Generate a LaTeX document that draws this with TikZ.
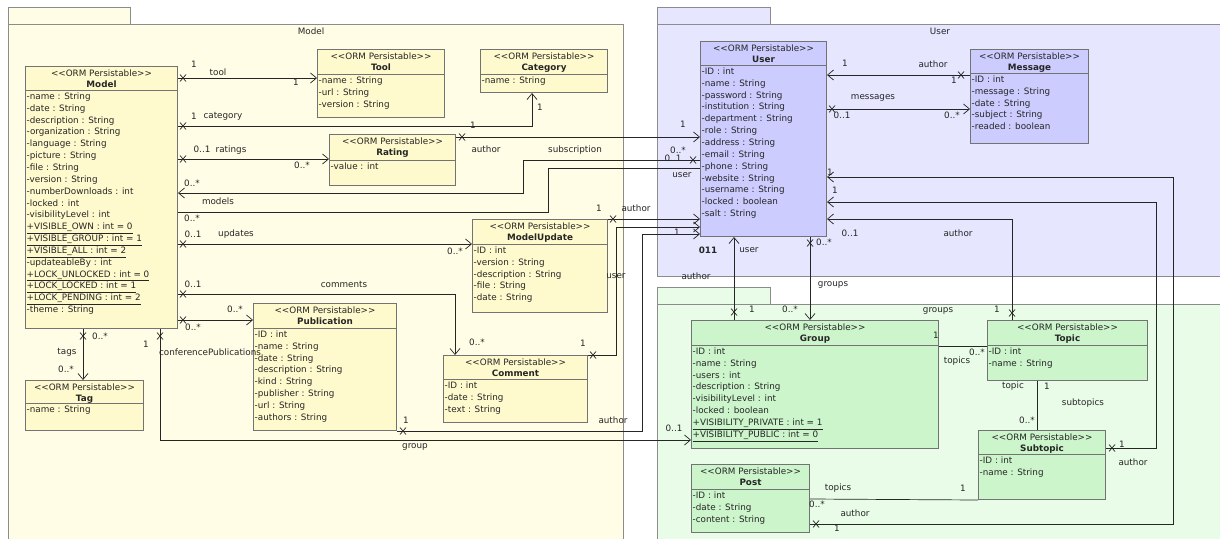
\documentclass[tikz,border=0pt]{standalone}
\usepackage{fontspec}
\setmainfont{DejaVu Sans}
\usetikzlibrary{arrows.meta}

\definecolor{mdlpkg}{HTML}{FFFDE6}
\definecolor{mdlcls}{HTML}{FFFACD}
\definecolor{usrpkg}{HTML}{E6E6FF}
\definecolor{usrcls}{HTML}{CCCCFF}
\definecolor{grppkg}{HTML}{E8FCE8}
\definecolor{grpcls}{HTML}{CCF5CC}

% class box: name, position, width, height, header height, fill, title, attributes
\newcommand{\umlclass}[8]{%
  \node[cls, fill=#6, minimum width=#3, minimum height=#4] (#1) at (#2) {};
  \node[hdr] (#1h) at (#1.north) {<\kern0pt<ORM Persistable>\kern0pt>\\\textbf{#7}};
  \draw[draw=black!55, line width=1pt] ([yshift=-#5pt]#1.north west) -- ([yshift=-#5pt]#1.north east);
  \node[atr] (#1a) at ([yshift=-#5pt]#1.north west) {#8};
}

\begin{document}
\begin{tikzpicture}[x=1pt, y=-1pt,
    >={Straight Barb[length=6pt,width=10pt]},
    pkg/.style={draw=black!45, line width=0.8pt},
    cls/.style={draw=black!55, line width=1pt, anchor=north west, inner sep=0pt},
    hdr/.style={anchor=north, align=center, inner xsep=1pt, inner ysep=3.3pt, text=black!85, font=\fontsize{8.8}{11}\selectfont},
    atr/.style={anchor=north west, align=left, inner xsep=1.5pt, inner ysep=2.5pt, text=black!85, font=\fontsize{8.8}{11.85}\selectfont},
    lbl/.style={inner sep=0pt, text=black!85, font=\fontsize{8.8}{10}\selectfont},
    conn/.style={draw=black!85, line width=0.7pt},
    xm/.pic={\draw[black!85, line width=0.7pt] (-3,-3.5) -- (3,3.5) (-3,3.5) -- (3,-3.5);}
  ]

  \useasboundingbox (0,0) rectangle (1220,538);
  \clip (0,0) rectangle (1220,538);
  \fill[white] (0,0) rectangle (1220,538);

  % Packages
  \draw[pkg, fill=mdlpkg] (8,7) rectangle (130,24);
  \draw[pkg, fill=mdlpkg] (8,24) rectangle (623,545);
  \node[lbl] (pkgModel) at (311,31) {Model};

  \draw[pkg, fill=usrpkg] (657,7) rectangle (770,24);
  \draw[pkg, fill=usrpkg] (657,24) rectangle (1228,276);
  \node[lbl] (pkgUser) at (940,31) {User};

  \draw[pkg, fill=grppkg] (657,287) rectangle (770,304);
  \draw[pkg, fill=grppkg] (657,304) rectangle (1228,545);
  \node[lbl] (pkgGroups) at (938,311) {groups};

  % Classes
  \umlclass{model}{25,66}{152}{262}{24}{mdlcls}{Model}{-name : String\\-date : String\\-description : String\\-organization : String\\-language : String\\-picture : String\\-file : String\\-version : String\\-numberDownloads : int\\-locked : int\\-visibilityLevel : int\\\underline{+VISIBLE\_OWN : int = 0}\\\underline{+VISIBLE\_GROUP : int = 1}\\\underline{+VISIBLE\_ALL : int = 2}\\-updateableBy : int\\\underline{+LOCK\_UNLOCKED : int = 0}\\\underline{+LOCK\_LOCKED : int = 1}\\\underline{+LOCK\_PENDING : int = 2}\\-theme : String}
  \umlclass{tool}{317,49}{127}{68}{25}{mdlcls}{Tool}{-name : String\\-url : String\\-version : String}
  \umlclass{category}{480,49}{127}{43}{25}{mdlcls}{Category}{-name : String}
  \umlclass{rating}{329,134}{126}{51}{26}{mdlcls}{Rating}{-value : int}
  \umlclass{modelupdate}{472,219}{135}{93}{25}{mdlcls}{ModelUpdate}{-ID : int\\-version : String\\-description : String\\-file : String\\-date : String}
  \umlclass{publication}{253,303}{143}{127}{25}{mdlcls}{Publication}{-ID : int\\-name : String\\-date : String\\-description : String\\-kind : String\\-publisher : String\\-url : String\\-authors : String}
  \umlclass{comment}{443,355}{144}{67}{24}{mdlcls}{Comment}{-ID : int\\-date : String\\-text : String}
  \umlclass{tag}{25,380}{118}{50}{23}{mdlcls}{Tag}{-name : String}

  \umlclass{user}{700,41}{126}{195}{24}{usrcls}{User}{-ID : int\\-name : String\\-password : String\\-institution : String\\-department : String\\-role : String\\-address : String\\-email : String\\-phone : String\\-website : String\\-username : String\\-locked : boolean\\-salt : String}
  \umlclass{message}{970,49}{118}{94}{24}{usrcls}{Message}{-ID : int\\-message : String\\-date : String\\-subject : String\\-readed : boolean}

  \umlclass{group}{691,320}{247}{128}{25}{grpcls}{Group}{-ID : int\\-name : String\\-users : int\\-description : String\\-visibilityLevel : int\\-locked : boolean\\\underline{+VISIBILITY\_PRIVATE : int = 1}\\\underline{+VISIBILITY\_PUBLIC : int = 0}}
  \umlclass{post}{691,464}{118}{68}{25}{grpcls}{Post}{-ID : int\\-date : String\\-content : String}
  \umlclass{topic}{987,320}{160}{60}{25}{grpcls}{Topic}{-ID : int\\-name : String}
  \umlclass{subtopic}{978,430}{127}{69}{24}{grpcls}{Subtopic}{-ID : int\\-name : String}

  % Associations inside Model
  \draw[conn,->] (model.east |- 0,78) -- (tool.west |- 0,78);
  \pic at (183,78) {xm};
  \draw[conn,->] (model.east |- 0,126) -| (532,0 |- category.south);
  \pic at (183,126) {xm};
  \draw[conn,->] (model.east |- 0,159) -- (rating.west |- 0,159);
  \pic at (183,159) {xm};
  \draw[conn,->] (model.east |- 0,244) -- (modelupdate.west |- 0,244);
  \pic at (183,244) {xm};
  \draw[conn,->] (model.east |- 0,294) -| (455,0 |- comment.north);
  \pic at (183,294) {xm};
  \draw[conn,->] (model.east |- 0,320) -- (publication.west |- 0,320);
  \pic at (183,320) {xm};
  \draw[conn,->] (83,0 |- model.south) -- (83,0 |- tag.north);
  \pic at (83,336) {xm};

  % Model -- User
  \coordinate (sub1) at (523,193);
  \draw[conn,->] (user.west |- 0,160) -| (sub1) -- (model.east |- sub1);
  \pic at (693,160) {xm};
  \coordinate (sub2) at (548,212);
  \draw[conn] (user.west |- 0,168) -| (sub2) -- (model.east |- sub2);
  \draw[conn,->] (rating.east |- 0,137) -- (user.west |- 0,137);
  \pic at (462,137) {xm};
  \draw[conn,->] (modelupdate.north east) -- (user.west |- modelupdate.north east);
  \pic at (613,219) {xm};
  \coordinate (cu) at (616,227);
  \draw[conn,->] (comment.north east) -| (cu) -- (user.west |- cu);
  \pic at (593,355) {xm};
  \coordinate (pa) at (642,234);
  \draw[conn,->] (publication.east |- 0,431) -| (pa) -- (user.west |- pa);
  \pic at (403,431) {xm};

  % Model -- Group
  \draw[conn,->] (160,0 |- model.south) |- (group.west |- 0,440);
  \pic at (160,336) {xm};

  % User -- Message
  \draw[conn,->] (message.west |- 0,75) -- (user.east |- 0,75);
  \pic at (961,75) {xm};
  \draw[conn,->] (user.east |- 0,109) -- (message.west |- 0,109);
  \pic at (832,109) {xm};

  % User -- groups
  \draw[conn,<-] (734,0 |- user.south) -- (734,0 |- group.north);
  \pic at (734,312) {xm};
  \draw[conn,->] (810,0 |- user.south) -- (810,0 |- group.north);
  \pic at (810,243) {xm};
  \coordinate (po) at (1173,177);
  \draw[conn,->] (post.east |- 0,524) -| (po) -- (user.east |- po);
  \pic at (816,524) {xm};
  \coordinate (so) at (1156,202);
  \draw[conn,->] (subtopic.east |- 0,448) -| (so) -- (user.east |- so);
  \pic at (1112,448) {xm};
  \draw[conn,->] (1012,0 |- topic.north) |- (user.east |- 0,219);
  \pic at (1012,313) {xm};

  % inside groups
  \draw[conn] (group.east |- 0,346) -- (topic.west |- 0,346);
  \draw[conn] (1037,0 |- topic.south) -- (1037,0 |- subtopic.north);
  \draw[conn] (post.east |- 0,499) -- (subtopic.south west);

  % Labels
  \node[lbl] (toolA) at (194,64) {1};
  \node[lbl] (toolB) at (218,72) {tool};
  \node[lbl] (toolC) at (296,82) {1};
  \node[lbl] (catA) at (194,116) {1};
  \node[lbl] (catB) at (223,116) {category};
  \node[lbl] (catC) at (473,125) {1};
  \node[lbl] (catD) at (540,107) {1};
  \node[lbl] (ratA) at (202,149) {0..1};
  \node[lbl] (ratB) at (231,150) {ratings};
  \node[lbl] (ratC) at (302,165) {0..*};
  \node[lbl] (modA) at (192,183) {0..*};
  \node[lbl] (modB) at (218,201) {models};
  \node[lbl] (subA) at (575,150) {subscription};
  \node[lbl] (subB) at (192,218) {0..*};
  \node[lbl] (rauA) at (486,149) {author};
  \node[lbl] (updA) at (193,234) {0..1};
  \node[lbl] (updB) at (236,234) {updates};
  \node[lbl] (updC) at (455,251) {0..*};
  \node[lbl] (comA) at (193,284) {0..1};
  \node[lbl] (comB) at (344,284) {comments};
  \node[lbl] (comC) at (477,342) {0..*};
  \node[lbl] (pubA) at (235,309) {0..*};
  \node[lbl] (pubB) at (193,327) {0..*};
  \node[lbl] (tagA) at (100,336) {0..*};
  \node[lbl] (tagB) at (67,352) {tags};
  \node[lbl] (tagC) at (66,369) {0..*};
  \node[lbl] (cpA) at (146,344) {1};
  \node[lbl] (cpB) at (210,352) {conferencePublications};
  \node[lbl] (cpC) at (415,447) {group};
  \node[lbl] (cpD) at (674,428) {0..1};
  \node[lbl] (pauA) at (406,420) {1};
  \node[lbl] (pauB) at (613,420) {author};
  \node[lbl] (muA) at (599,208) {1};
  \node[lbl] (muB) at (636,208) {author};
  \node[lbl] (cuA) at (583,343) {1};
  \node[lbl] (cuB) at (616,276) {user};
  \node[lbl] (ulA) at (683,124) {1};
  \node[lbl] (ulB) at (678,150) {0..*};
  \node[lbl] (ulC) at (673,158) {0..1};
  \node[lbl] (ulD) at (682,175) {user};
  \node[lbl] (ulE) at (677,232) {1};
  \node[lbl] (ulF) at (708,250) {\textbf{011}};
  \node[lbl] (ulG) at (749,250) {user};
  \node[lbl] (ulH) at (696,276) {author};
  \node[lbl] (urA) at (845,63) {1};
  \node[lbl] (urB) at (933,64) {author};
  \node[lbl] (urC) at (954,80) {1};
  \node[lbl] (urD) at (873,98) {messages};
  \node[lbl] (urE) at (842,115) {0..1};
  \node[lbl] (urF) at (952,115) {0..*};
  \node[lbl] (urG) at (830,172) {1};
  \node[lbl] (urH) at (835,190) {1};
  \node[lbl] (urI) at (850,233) {0..1};
  \node[lbl] (urJ) at (958,233) {author};
  \node[lbl] (urK) at (824,242) {0..*};
  \node[lbl] (grA) at (833,285) {groups};
  \node[lbl] (grB) at (790,309) {0..*};
  \node[lbl] (grC) at (752,309) {1};
  \node[lbl] (grD) at (997,309) {1};
  \node[lbl] (grE) at (936,335) {1};
  \node[lbl] (grF) at (977,352) {0..*};
  \node[lbl] (grG) at (957,361) {topics};
  \node[lbl] (grH) at (1013,386) {topic};
  \node[lbl] (grI) at (1047,386) {1};
  \node[lbl] (grJ) at (1083,403) {subtopics};
  \node[lbl] (grK) at (1027,420) {0..*};
  \node[lbl] (grL) at (1122,444) {1};
  \node[lbl] (grM) at (1133,462) {author};
  \node[lbl] (grN) at (838,488) {topics};
  \node[lbl] (grO) at (963,488) {1};
  \node[lbl] (grP) at (817,504) {0..*};
  \node[lbl] (grQ) at (855,513) {author};
  \node[lbl] (grR) at (837,528) {1};

\end{tikzpicture}
\end{document}
